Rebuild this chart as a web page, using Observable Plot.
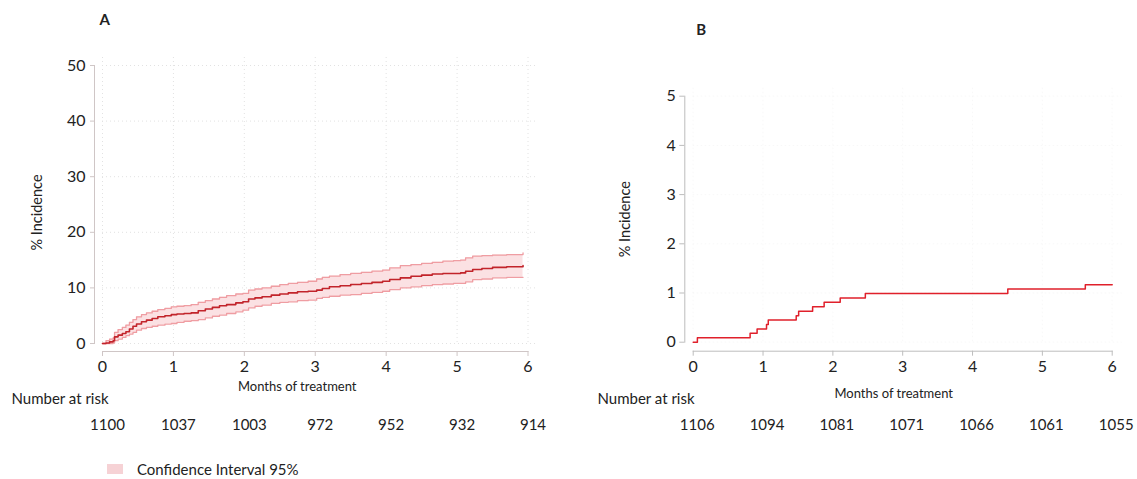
<!DOCTYPE html>
<html>
<head>
<meta charset="utf-8">
<script src="https://cdn.jsdelivr.net/npm/d3@7"></script>
<script src="https://cdn.jsdelivr.net/npm/@observablehq/plot@0.6"></script>
<style>
  html, body { margin: 0; padding: 0; background: #fff; }
  #wrap { position: relative; width: 1137px; height: 479px; overflow: hidden; background: #fff; font-family: Lato, "Noto Sans", sans-serif; color: #222; }
  #wrap svg { position: absolute; top: 0; overflow: visible; }
  #legend { position: absolute; left: 107px; top: 460px; font-size: 15px; display: flex; align-items: center; }
  #legend .sw { display: inline-block; width: 16px; height: 10px; background: #f6d2d5; margin-right: 14px; }
</style>
</head>
<body>
<div id="wrap"><div id="legend"><span class="sw"></span><span>Confidence Interval 95%</span></div></div>
<script>
// ---- Panel A: cumulative incidence with 95% CI ----
const monthsA = [0,0.05,0.10,0.15,0.17,0.22,0.28,0.33,0.38,0.43,0.48,0.55,0.62,0.70,0.78,0.88,0.97,1.05,1.15,1.25,1.35,1.45,1.55,1.65,1.75,1.88,1.98,2.06,2.15,2.25,2.38,2.50,2.62,2.75,2.90,3.02,3.10,3.20,3.35,3.50,3.65,3.80,3.95,4.05,4.20,4.35,4.50,4.65,4.80,4.95,5.05,5.12,5.22,5.35,5.50,5.70,5.93];
const meanA  = [0,0.1,0.3,0.5,1.2,1.5,1.8,2.1,2.6,3.1,3.5,3.9,4.2,4.5,4.8,5.0,5.2,5.3,5.4,5.5,5.9,6.2,6.5,6.8,7.0,7.3,7.5,8.0,8.2,8.4,8.7,8.9,9.1,9.3,9.4,9.6,9.9,10.2,10.4,10.6,10.8,11.0,11.2,11.5,11.8,12.1,12.3,12.5,12.6,12.6,12.7,13.0,13.3,13.5,13.7,13.8,14.0];
const upperA = [0,0.5,0.8,1.0,2.0,2.5,2.9,3.3,3.8,4.3,4.8,5.2,5.5,5.8,6.1,6.3,6.6,6.7,6.8,7.0,7.4,7.7,8.0,8.3,8.6,8.9,9.0,9.6,9.8,10.0,10.3,10.6,10.8,11.0,11.2,11.6,11.9,12.1,12.4,12.6,12.8,13.0,13.2,13.6,14.0,14.2,14.4,14.6,14.8,14.9,15.0,15.4,15.7,15.8,15.9,16.0,16.3];
const lowerA = [0,0,0,0.1,0.5,0.8,1.1,1.4,1.7,2.0,2.4,2.7,2.9,3.1,3.3,3.5,3.6,3.8,4.0,4.1,4.3,4.6,4.9,5.1,5.4,5.7,6.0,6.4,6.7,6.9,7.2,7.4,7.5,7.7,7.8,8.1,8.3,8.5,8.7,8.8,9.0,9.2,9.4,9.7,10.0,10.2,10.4,10.6,10.7,10.8,10.8,11.1,11.5,11.6,11.8,11.9,11.9];

// ---- Panel B: cumulative incidence (step) ----
const monthsB = [0,0.06,0.815,0.915,1.05,1.075,1.475,1.51,1.71,1.875,2.105,2.465,4.505,5.615,6.0];
const pctB    = [0,0.09,0.18,0.27,0.36,0.45,0.54,0.63,0.72,0.81,0.90,0.99,1.08,1.17,1.17];

// ---- Number at risk ----
const riskMonths = [0,1,2,3,4,5,6];
const riskA = [1100,1037,1003,972,952,932,914];
const riskB = [1106,1094,1081,1071,1066,1061,1055];

// ---- Ticks ----
const xTicks = [0,1,2,3,4,5,6];
const yTicksA = [0,10,20,30,40,50];
const yTicksB = [0,1,2,3,4,5];

const FONT = 'Lato, "Noto Sans", sans-serif';
const dataA = monthsA.map((m,i) => ({m, mean: meanA[i], hi: upperA[i], lo: lowerA[i]}));
const dataB = monthsB.map((m,i) => ({m, p: pctB[i]}));
const tableA = riskMonths.map((m,i) => ({m, n: String(riskA[i])}));
const tableB = riskMonths.map((m,i) => ({m, n: String(riskB[i])}));
const fmt = d => String(d);

const wrap = document.getElementById("wrap");

const plotA = Plot.plot({
  width: 575, height: 479,
  marginLeft: 102, marginRight: 47.5, marginTop: 65, marginBottom: 136,
  x: {domain: [0, 6]},
  y: {domain: [0, 50]},
  style: {fontFamily: FONT, fontSize: "15px", color: "#222", background: "transparent", overflow: "visible"},
  marks: [
    Plot.gridX(xTicks, {stroke: "#e2e2e2", strokeOpacity: 1, strokeDasharray: "1,3", insetTop: -8}),
    Plot.gridY(yTicksA, {stroke: "#e2e2e2", strokeOpacity: 1, strokeDasharray: "1,3", insetRight: -8}),
    Plot.areaY(dataA, {x: "m", y1: "lo", y2: "hi", curve: "step-after", fill: "#fbe1e3"}),
    Plot.lineY(dataA, {x: "m", y: "hi", curve: "step-after", stroke: "#ef9da2", strokeWidth: 1.3}),
    Plot.lineY(dataA, {x: "m", y: "lo", curve: "step-after", stroke: "#ef9da2", strokeWidth: 1.3}),
    Plot.lineY(dataA, {x: "m", y: "mean", curve: "step-after", stroke: "#c2242b", strokeWidth: 1.6}),
    Plot.frame({anchor: "left", dx: -8, stroke: "#cfc6c6"}),
    Plot.frame({anchor: "bottom", dy: 8, stroke: "#cfc6c6"}),
    Plot.axisY({ticks: yTicksA, tickSize: 4, dx: -8, label: null, tickFormat: fmt, fontSize: 16, stroke: "#cfc6c6", fill: "#222"}),
    Plot.axisX({ticks: xTicks, tickSize: 5, dy: 8, label: null, tickFormat: fmt, fontSize: 16, stroke: "#cfc6c6", fill: "#222"}),
    Plot.text(["% Incidence"], {frameAnchor: "left", dx: -65, dy: 8, rotate: -90, textAnchor: "middle", lineAnchor: "middle", fontSize: 14.5, fill: "#222"}),
    Plot.text(["Months of treatment"], {frameAnchor: "bottom", dx: -18, dy: 43, textAnchor: "middle", lineAnchor: "middle", fontSize: 13, fill: "#222"}),
    Plot.text(["Number at risk"], {frameAnchor: "bottom-left", dx: -91, dy: 56, textAnchor: "start", lineAnchor: "middle", fontSize: 15, fill: "#222"}),
    Plot.text(tableA, {x: "m", text: "n", frameAnchor: "bottom", dx: 5, dy: 82, textAnchor: "middle", lineAnchor: "middle", fontSize: 15, fill: "#222"}),
    Plot.text(["A"], {frameAnchor: "top-left", dx: -3, dy: -45, textAnchor: "start", lineAnchor: "middle", fontSize: 15, fontWeight: "bold", fill: "#222"})
  ]
});
plotA.style.left = "0px";
wrap.appendChild(plotA);

const plotB = Plot.plot({
  width: 567, height: 479,
  marginLeft: 122.7, marginRight: 25.3, marginTop: 95.7, marginBottom: 137.3,
  x: {domain: [0, 6]},
  y: {domain: [0, 5]},
  style: {fontFamily: FONT, fontSize: "15px", color: "#222", background: "transparent", overflow: "visible"},
  marks: [
    Plot.gridX(xTicks, {stroke: "#b8b8b8", strokeDasharray: "1.5,2.5", insetTop: -8}),
    Plot.gridY(yTicksB, {stroke: "#b8b8b8", strokeDasharray: "1.5,2.5", insetRight: -10}),
    Plot.lineY(dataB, {x: "m", y: "p", curve: "step-after", stroke: "#e0202b", strokeWidth: 1.5}),
    Plot.frame({anchor: "left", dx: -8.4, stroke: "#bdbdbd"}),
    Plot.frame({anchor: "bottom", dy: 9, stroke: "#bdbdbd"}),
    Plot.axisY({ticks: yTicksB, tickSize: 5, dx: -8.4, label: null, tickFormat: fmt, fontSize: 16, stroke: "#bdbdbd", fill: "#222"}),
    Plot.axisX({ticks: xTicks, tickSize: 5, dy: 9, label: null, tickFormat: fmt, fontSize: 16, stroke: "#bdbdbd", fill: "#222"}),
    Plot.text(["% Incidence"], {frameAnchor: "left", dx: -67.7, rotate: -90, textAnchor: "middle", lineAnchor: "middle", fontSize: 14.5, fill: "#222"}),
    Plot.text(["Months of treatment"], {frameAnchor: "bottom", dx: -9, dy: 52, textAnchor: "middle", lineAnchor: "middle", fontSize: 13, fill: "#222"}),
    Plot.text(["Number at risk"], {frameAnchor: "bottom-left", dx: -95.7, dy: 57, textAnchor: "start", lineAnchor: "middle", fontSize: 15, fill: "#222"}),
    Plot.text(tableB, {x: "m", text: "n", frameAnchor: "bottom", dx: 4, dy: 83, textAnchor: "middle", lineAnchor: "middle", fontSize: 15, fill: "#222"}),
    Plot.text(["B"], {frameAnchor: "top-left", dx: 3, dy: -66, textAnchor: "start", lineAnchor: "middle", fontSize: 15, fontWeight: "bold", fill: "#222"})
  ]
});
plotB.style.left = "570px";
wrap.appendChild(plotB);
</script>
</body>
</html>
